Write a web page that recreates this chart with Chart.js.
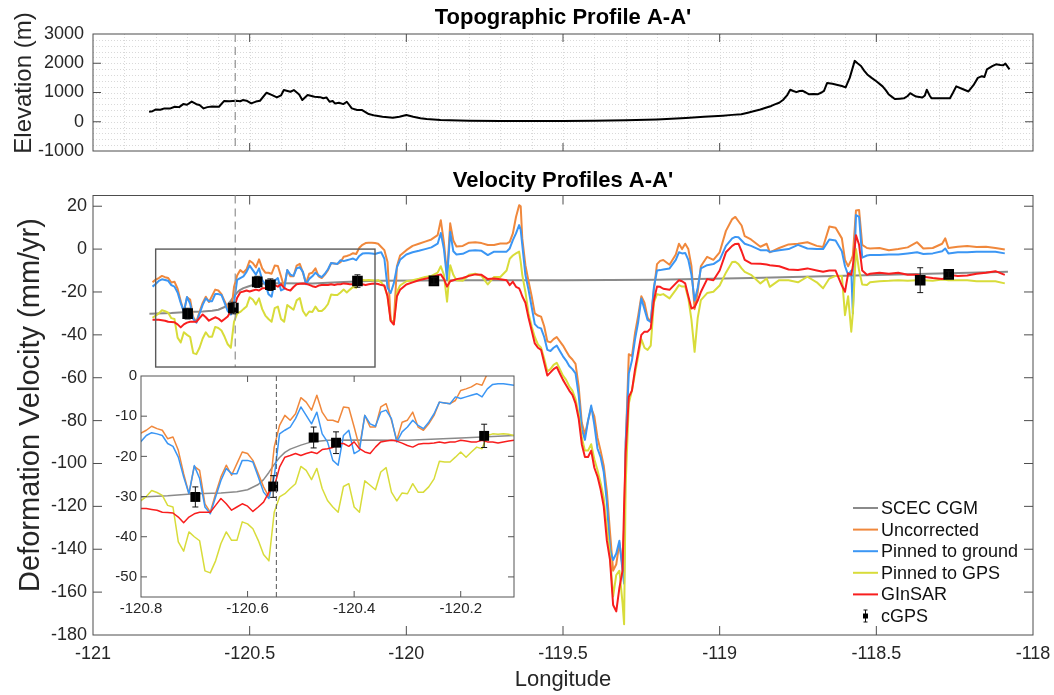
<!DOCTYPE html>
<html>
<head>
<meta charset="utf-8">
<title>Topographic and Velocity Profiles A-A'</title>
<script src="https://cdn.jsdelivr.net/npm/chart.js@4.4.1/dist/chart.umd.min.js"></script>
<style>
  html, body { margin: 0; padding: 0; background: #fff; }
  #fig { position: relative; width: 1054px; height: 695px; overflow: hidden; background: #fff; }
  #fig canvas { position: absolute; }
</style>
</head>
<body>
<div id="fig">
  <canvas id="topo" width="1054" height="160" style="left:0;top:0"></canvas>
  <canvas id="vel" width="1054" height="535" style="left:0;top:160px"></canvas>
  <canvas id="detail" width="440" height="270" style="left:100px;top:360px"></canvas>
</div>
<script>
// ---------------- profile data ----------------
// InSAR velocity profiles sampled along A-A' (longitude, mm/yr)
const profileLon = [
  -120.81,-120.80,-120.79,-120.78,-120.77,-120.76,-120.75,-120.74,-120.73,-120.72,
  -120.71,-120.70,-120.69,-120.68,-120.67,-120.66,-120.65,-120.64,-120.63,-120.62,
  -120.61,-120.60,-120.59,-120.58,-120.57,-120.56,-120.55,-120.54,-120.53,-120.52,
  -120.51,-120.50,-120.49,-120.48,-120.47,-120.46,-120.45,-120.44,-120.43,-120.42,
  -120.41,-120.40,-120.39,-120.38,-120.37,-120.36,-120.35,-120.34,-120.33,-120.32,
  -120.31,-120.30,-120.29,-120.28,-120.27,-120.26,-120.25,-120.24,-120.23,-120.22,
  -120.21,-120.20,-120.19,-120.18,-120.17,-120.16,-120.15,-120.14,-120.13,-120.12,
  -120.11,-120.10,-120.09,-120.08,-120.07,-120.06,-120.05,-120.04,-120.03,-120.02,
  -120.00,-119.98,-119.96,-119.94,-119.92,-119.90,-119.89,-119.88,-119.87,-119.86,
  -119.85,-119.84,-119.82,-119.80,-119.78,-119.76,-119.74,-119.72,-119.70,-119.68,
  -119.67,-119.66,-119.65,-119.64,-119.635,-119.63,-119.62,-119.61,-119.60,-119.59,
  -119.58,-119.57,-119.56,-119.55,-119.54,-119.53,-119.52,-119.51,-119.50,-119.49,
  -119.48,-119.47,-119.46,-119.45,-119.44,-119.43,-119.42,-119.41,-119.40,-119.39,
  -119.38,-119.37,-119.36,-119.35,-119.34,-119.33,-119.32,-119.31,-119.305,-119.30,
  -119.29,-119.28,-119.27,-119.26,-119.25,-119.24,-119.23,-119.22,-119.21,-119.20,
  -119.19,-119.18,-119.16,-119.14,-119.13,-119.12,-119.11,-119.10,-119.09,-119.08,
  -119.07,-119.06,-119.04,-119.02,-119.00,-118.98,-118.96,-118.95,-118.94,-118.93,
  -118.92,-118.90,-118.87,-118.85,-118.84,-118.81,-118.78,-118.75,-118.72,-118.69,
  -118.67,-118.65,-118.63,-118.61,-118.60,-118.59,-118.58,-118.575,-118.565,-118.555,
  -118.545,-118.53,-118.52,-118.49,-118.46,-118.43,-118.40,-118.37,-118.35,-118.32,
  -118.29,-118.28,-118.27,-118.24,-118.21,-118.18,-118.15,-118.12,-118.09
];
const uncorrected = [
  -15.5,-14.2,-13.5,-12.5,-13.1,-13.5,-15.6,-15.2,-18.5,-24.3,
  -29.3,-22.5,-23.5,-31.8,-33.9,-29.3,-25.1,-22.2,-24.7,-21.8,
  -18.9,-19.3,-21.0,-24.3,-27.6,-30.1,-17.7,-12.3,-9.8,-11.0,
  -9.4,-5.4,-6.5,-8.5,-4.8,-9.0,-11.0,-11.0,-11.5,-7.7,
  -7.9,-12.7,-17.7,-9.8,-12.7,-12.7,-7.7,-6.9,-11.0,-16.0,
  -11.5,-11.0,-9.0,-12.7,-13.5,-11.9,-9.8,-6.5,-6.7,-6.9,
  -6.1,-3.6,-3.2,-2.7,-1.9,-2.3,0.6,2.0,2.8,3.0,
  3.0,2.8,2.5,1.0,-0.5,-6.0,-33.0,-34.5,-8.0,-3.0,
  -0.5,1.5,2.5,3.5,4.5,6.5,13.5,3.0,-12.0,12.0,
  4.0,1.2,1.5,3.0,3.2,2.8,1.9,1.9,2.6,2.6,
  3.4,7.3,15.0,20.5,20.0,5.0,-7.5,-15.0,-22.0,-30.0,
  -31.0,-31.5,-36.0,-43.0,-43.5,-42.0,-41.0,-43.0,-45.0,-47.5,
  -50.0,-51.5,-53.5,-64.0,-81.0,-86.5,-80.0,-74.0,-78.0,-88.0,
  -94.0,-101.0,-113.0,-132.0,-150.0,-147.0,-137.0,-148.0,-130.0,-92.0,
  -49.0,-50.0,-39.0,-31.0,-22.0,-25.0,-32.0,-34.0,-19.0,-7.0,
  -5.5,-5.1,-7.3,-2.5,2.5,0.0,2.5,0.0,-8.0,-28.0,
  -20.0,-8.0,-3.6,-5.0,-1.5,8.5,14.0,15.0,13.0,11.0,
  6.0,4.5,1.1,2.5,-1.5,0.5,2.2,2.5,3.2,1.5,
  1.0,10.5,10.0,5.0,-5.0,-8.0,-5.0,-3.0,18.0,18.2,
  2.0,0.5,0.3,0.5,-0.5,0.0,0.8,3.2,0.3,0.5,
  2.5,5.0,0.5,1.1,1.5,1.0,1.1,0.5,-0.2
];
const pinnedGround = [
  -17.5,-16.3,-14.8,-14.1,-14.4,-14.8,-16.8,-17.5,-20.2,-25.1,
  -29.3,-22.3,-25.5,-32.6,-34.3,-30.1,-26.0,-23.0,-24.3,-24.3,
  -21.0,-21.0,-21.4,-25.1,-28.9,-30.5,-25.1,-14.4,-13.5,-12.7,
  -10.6,-7.7,-9.8,-11.9,-9.0,-14.4,-16.4,-21.0,-22.2,-14.8,
  -13.5,-19.3,-18.5,-9.8,-11.9,-12.5,-9.0,-8.5,-10.6,-16.4,
  -13.9,-12.7,-11.0,-12.3,-13.1,-11.5,-9.4,-6.5,-6.7,-6.9,
  -5.2,-5.6,-5.2,-4.8,-4.4,-5.2,-3.2,-2.1,-1.9,-1.9,
  -2.1,-2.3,-1.8,-1.5,-4.5,-18.0,-20.5,-16.0,-8.5,-5.0,
  -2.5,-1.5,-0.8,0.0,0.8,2.5,7.5,0.0,-14.0,8.0,
  -1.0,-2.5,-2.2,-0.8,-0.5,-0.8,-2.8,-1.2,-1.2,-1.2,
  0.3,4.2,7.3,11.2,9.0,2.0,-12.0,-19.0,-27.0,-35.0,
  -36.5,-37.0,-41.0,-47.0,-47.5,-46.0,-45.0,-47.5,-50.0,-52.0,
  -54.5,-56.0,-58.0,-68.0,-84.0,-89.0,-80.0,-73.0,-82.0,-93.0,
  -97.0,-104.0,-118.0,-140.0,-145.0,-142.0,-136.0,-150.0,-156.0,-90.0,
  -58.0,-52.0,-42.0,-34.0,-23.0,-28.0,-33.0,-34.0,-18.0,-10.0,
  -9.8,-9.5,-9.0,-5.0,-1.5,-2.0,-1.8,-5.0,-12.0,-24.0,
  -18.0,-9.0,-7.5,-7.0,-5.0,1.5,5.0,5.7,5.5,4.0,
  2.5,1.5,-0.5,-0.5,-1.3,-0.5,0.0,2.0,0.3,0.0,
  0.0,4.5,4.0,-1.0,-8.0,-12.0,-10.0,-30.0,15.9,15.0,
  -4.0,-3.0,-2.8,-2.8,-2.5,-2.5,-2.0,-1.5,-2.3,-2.0,
  -1.0,0.3,-2.0,-1.5,-1.5,-1.2,-1.2,-1.2,-2.0
];
const pinnedGps = [
  -32.0,-31.0,-30.0,-28.5,-29.0,-29.7,-32.2,-32.6,-41.3,-43.6,
  -38.8,-40.0,-41.0,-48.5,-49.0,-46.0,-41.7,-38.8,-40.9,-40.9,
  -36.3,-36.8,-38.0,-40.9,-44.4,-46.0,-33.9,-30.1,-29.3,-28.0,
  -26.8,-22.5,-23.5,-25.8,-23.0,-28.0,-31.0,-32.6,-33.9,-27.5,
  -26.8,-32.6,-33.9,-26.1,-27.2,-28.3,-23.9,-22.8,-28.9,-31.1,
  -29.1,-29.3,-26.8,-28.9,-28.9,-27.6,-25.6,-21.2,-21.4,-21.4,
  -20.2,-18.9,-20.2,-18.9,-17.7,-18.1,-14.8,-14.4,-14.5,-14.4,
  -14.5,-14.8,-14.5,-15.5,-17.5,-22.0,-33.0,-35.0,-20.0,-17.0,
  -15.0,-14.5,-13.8,-13.0,-12.5,-11.0,-8.0,-12.0,-24.5,-7.5,
  -12.0,-14.5,-14.8,-12.0,-11.5,-12.5,-16.5,-13.0,-13.0,-10.0,
  -4.5,-3.0,-2.0,-1.2,-6.0,-12.0,-20.0,-30.0,-36.0,-41.0,
  -44.5,-46.0,-51.0,-57.0,-56.0,-54.0,-53.0,-56.0,-59.0,-61.0,
  -64.0,-66.0,-70.0,-77.0,-88.0,-94.0,-94.0,-91.0,-98.0,-103.0,
  -109.0,-116.0,-130.0,-143.0,-162.0,-152.0,-150.0,-165.0,-175.0,-110.0,
  -72.0,-66.0,-58.0,-50.0,-42.0,-46.0,-47.0,-45.0,-25.0,-21.0,
  -21.4,-21.0,-23.0,-19.0,-16.8,-17.5,-17.5,-23.0,-33.0,-47.9,
  -32.0,-23.8,-20.5,-19.9,-17.0,-11.0,-6.0,-5.9,-7.0,-9.0,
  -10.6,-12.0,-16.0,-13.7,-17.6,-14.5,-14.5,-15.5,-12.9,-15.5,
  -18.3,-13.7,-12.5,-12.5,-30.8,-22.0,-38.5,-30.0,0.0,-10.0,
  -16.5,-16.8,-15.5,-15.0,-14.8,-14.5,-14.8,-14.5,-14.5,-14.8,
  -14.2,-14.3,-14.5,-14.5,-14.5,-15.0,-15.0,-15.0,-16.0
];
const ginsar = [
  -33.0,-33.0,-33.0,-33.2,-33.4,-33.9,-34.0,-34.1,-35.1,-36.5,
  -35.1,-34.3,-33.9,-33.9,-33.9,-32.2,-30.5,-31.8,-33.4,-32.6,
  -31.8,-32.4,-33.7,-32.6,-31.4,-28.9,-27.6,-22.7,-20.2,-19.8,
  -19.3,-19.8,-19.3,-18.9,-19.3,-18.3,-18.1,-17.8,-16.8,-16.8,
  -17.5,-16.4,-18.1,-18.9,-19.3,-17.7,-16.4,-16.2,-16.0,-16.2,
  -16.7,-17.3,-17.7,-17.0,-16.8,-16.8,-16.7,-16.4,-16.7,-16.4,
  -16.4,-16.0,-16.2,-16.4,-16.4,-16.0,-16.4,-16.4,-16.7,-16.4,
  -16.2,-16.0,-16.3,-16.8,-17.0,-22.0,-33.5,-35.2,-22.0,-19.0,
  -16.5,-15.5,-14.5,-13.8,-13.2,-12.2,-11.8,-14.0,-17.5,-15.0,
  -14.5,-14.0,-13.5,-12.5,-11.8,-12.0,-14.0,-13.7,-14.1,-14.5,
  -16.8,-15.2,-17.6,-18.3,-20.0,-22.0,-25.0,-32.0,-38.0,-44.0,
  -46.0,-47.0,-53.0,-59.0,-57.5,-56.0,-55.0,-58.0,-61.0,-63.5,
  -66.0,-68.0,-72.0,-79.0,-91.0,-97.0,-97.0,-94.0,-102.0,-106.0,
  -112.0,-120.0,-136.0,-145.0,-166.0,-169.0,-158.0,-150.0,-120.0,-95.0,
  -69.0,-66.0,-56.0,-48.0,-40.0,-38.5,-38.5,-37.0,-24.0,-17.5,
  -17.6,-18.5,-19.0,-16.0,-14.5,-15.0,-16.0,-22.0,-27.7,-27.0,
  -24.0,-20.0,-14.0,-14.5,-10.0,-1.5,1.5,2.4,2.5,-1.0,
  -5.0,-6.7,-6.8,-7.2,-7.5,-8.0,-9.5,-9.8,-9.0,-10.0,
  -10.6,-10.0,-10.0,-17.0,-19.9,-11.3,-12.0,-8.0,6.5,2.0,
  -10.0,-12.0,-11.5,-11.0,-11.5,-11.0,-12.0,-12.0,-12.9,-13.5,
  -14.0,-13.5,-12.0,-12.5,-12.3,-11.5,-11.0,-10.3,-12.0
];

// SCEC Community Geodetic Model prediction along the profile
const cgmLon = [-120.82,-120.75,-120.70,-120.65,-120.62,-120.60,-120.58,-120.57,-120.56,-120.55,
  -120.54,-120.53,-120.52,-120.50,-120.48,-120.45,-120.40,-120.30,-120.20,-120.10,
  -119.80,-119.50,-119.20,-118.90,-118.60,-118.30,-118.08];
const cgmVel = [-30.2,-29.8,-29.3,-29.1,-28.8,-28.3,-27.0,-25.8,-24.0,-22.0,
  -20.3,-19.0,-18.2,-17.2,-16.4,-16.0,-15.9,-16.0,-15.4,-14.8,
  -14.5,-14.5,-14.3,-13.5,-12.4,-11.4,-10.6];

// continuous GPS stations projected onto the profile
const gpsLon = [-120.698, -120.552, -120.476, -120.434, -120.156, -119.912, -118.36, -118.269];
const gpsVel = [-30.1, -27.5, -15.3, -16.6, -14.9, -14.8, -14.5, -11.8];
const gpsErr = [2.5, 2.7, 2.6, 2.7, 2.9, 1.5, 5.8, 1.5];

// topography along A-A' (longitude, metres)
const topoLon = [
  -120.821,-120.81,-120.799,-120.785,-120.772,-120.755,-120.739,-120.725,-120.712,-120.70,
  -120.685,-120.67,-120.66,-120.647,-120.635,-120.62,-120.598,-120.582,-120.565,-120.543,
  -120.53,-120.522,-120.51,-120.495,-120.48,-120.467,-120.446,-120.43,-120.413,-120.40,
  -120.391,-120.37,-120.359,-120.342,-120.332,-120.315,-120.293,-120.275,-120.265,-120.255,
  -120.245,-120.235,-120.228,-120.215,-120.201,-120.19,-120.174,-120.157,-120.141,-120.12,
  -120.10,-120.076,-120.043,-120.022,-120.0,-119.978,-119.955,-119.935,-119.891,-119.8,
  -119.7,-119.6,-119.5,-119.4,-119.3,-119.2,-119.108,-119.05,-118.99,-118.96,
  -118.931,-118.91,-118.892,-118.87,-118.853,-118.835,-118.824,-118.81,-118.798,-118.785,
  -118.775,-118.765,-118.755,-118.745,-118.735,-118.725,-118.716,-118.70,-118.686,-118.675,
  -118.667,-118.657,-118.64,-118.627,-118.61,-118.598,-118.585,-118.569,-118.56,-118.549,
  -118.539,-118.529,-118.515,-118.50,-118.48,-118.47,-118.461,-118.45,-118.441,-118.425,
  -118.412,-118.40,-118.392,-118.383,-118.373,-118.353,-118.345,-118.339,-118.33,-118.324,
  -118.30,-118.265,-118.255,-118.245,-118.225,-118.206,-118.19,-118.176,-118.163,-118.155,
  -118.147,-118.13,-118.118,-118.104,-118.095,-118.088,-118.075
];
const topoElev = [
  342,360,422,410,456,450,513,500,604,580,
  690,600,570,456,500,520,513,707,700,718,
  700,741,720,627,690,718,992,919,832,900,
  1083,1026,1083,935,741,912,855,840,802,832,
  684,709,627,650,604,684,456,400,399,262,
  210,171,137,171,228,171,120,91,57,38,
  25,23,22,30,50,80,128,170,209,235,
  256,310,360,420,477,540,593,650,744,900,
  1093,1050,1012,1050,1058,1000,942,950,942,1000,
  1058,1326,1300,1267,1220,1174,1500,2081,2000,1907,
  1750,1616,1500,1384,1209,1080,942,850,779,790,
  802,880,977,920,860,826,900,1093,900,802,
  802,802,1000,1209,1120,1035,1250,1500,1558,1530,
  1791,1900,1965,1942,1930,1988,1791
];

// axis ticks
const lonTicks = [-121, -120.5, -120, -119.5, -119, -118.5, -118];
const elevTicks = [-1000, 0, 1000, 2000, 3000];
const velTicks = [-180, -160, -140, -120, -100, -80, -60, -40, -20, 0, 20];
const detailLonTicks = [-120.8, -120.6, -120.4, -120.2];
const detailVelTicks = [-50, -40, -30, -20, -10, 0];

// fault trace and the window enlarged in the detail panel
const faultLon = -120.546;
const detailWindow = { lonMin: -120.8, lonMax: -120.1, velMin: -55, velMax: 0 };

// ---------------- drawing ----------------
const FONT = "'Liberation Sans', Arial, Helvetica, sans-serif";
const INK = '#262626';
Chart.defaults.font.family = FONT;
Chart.defaults.color = INK;

const COLORS = {
  cgm: '#8a8a8a', raw: '#f0883c', ground: '#3b96f4', gps: '#d8dc3a', ginsar: '#f81e1e'
};

function pts(xs, ys) { return xs.map((x, i) => ({ x: x, y: ys[i] })); }

function profileSets(w, gpsRadius) {
  const base = { pointRadius: 0, fill: false, tension: 0, clip: 0, borderJoinStyle: 'round' };
  return [
    { label: 'SCEC CGM', data: pts(cgmLon, cgmVel), borderColor: COLORS.cgm, borderWidth: w, order: 5 },
    { label: 'Uncorrected', data: pts(profileLon, uncorrected), borderColor: COLORS.raw, borderWidth: w, order: 4 },
    { label: 'Pinned to ground', data: pts(profileLon, pinnedGround), borderColor: COLORS.ground, borderWidth: w, order: 3 },
    { label: 'Pinned to GPS', data: pts(profileLon, pinnedGps), borderColor: COLORS.gps, borderWidth: w, order: 2 },
    { label: 'GInSAR', data: pts(profileLon, ginsar), borderColor: COLORS.ginsar, borderWidth: w, order: 1 },
    { label: 'cGPS', data: pts(gpsLon, gpsVel), errorBars: gpsErr, showLine: false,
      pointStyle: 'rect', pointRadius: gpsRadius, pointBackgroundColor: '#000',
      pointBorderColor: '#000', pointBorderWidth: 0, borderColor: '#000', backgroundColor: '#000', order: 0 }
  ].map(d => Object.assign({}, base, d));
}

function fixedTicks(values) {
  return s => { s.ticks = values.map(v => ({ value: v })); };
}
function fixWidth(w) {
  return s => { s.width = w; s.paddingTop = 0; s.paddingBottom = 0; s.paddingLeft = 0; s.paddingRight = 0; };
}
function fixHeight(h) {
  return s => { s.height = h; s.paddingTop = 0; s.paddingBottom = 0; s.paddingLeft = 0; s.paddingRight = 0; };
}
const noGrid = { display: false, drawTicks: false, tickLength: 0 };

// box, inward tick marks and optional dotted minor grid
const framePlugin = {
  id: 'frame',
  beforeDatasetsDraw(chart, args, o) {
    const { ctx, chartArea: a, scales: { x, y } } = chart;
    if (o.background) {
      ctx.save(); ctx.fillStyle = o.background;
      ctx.fillRect(a.left, a.top, a.right - a.left, a.bottom - a.top); ctx.restore();
    }
    if (!o.gridStepX) return;
    ctx.save();
    ctx.strokeStyle = '#d9d9d9'; ctx.lineWidth = 1; ctx.setLineDash([1, 2]);
    ctx.beginPath();
    for (let v = x.min + o.gridStepX; v < x.max - 1e-9; v += o.gridStepX) {
      const px = Math.round(x.getPixelForValue(v)) + 0.5;
      ctx.moveTo(px, a.top); ctx.lineTo(px, a.bottom);
    }
    for (let v = y.min + o.gridStepY; v < y.max - 1e-9; v += o.gridStepY) {
      const py = Math.round(y.getPixelForValue(v)) + 0.5;
      ctx.moveTo(a.left, py); ctx.lineTo(a.right, py);
    }
    ctx.stroke(); ctx.restore();
  },
  afterDatasetsDraw(chart, args, o) {
    const { ctx, chartArea: a, scales: { x, y } } = chart;
    ctx.save();
    ctx.strokeStyle = o.color; ctx.lineWidth = o.width;
    ctx.beginPath();
    for (const v of o.xMarks) {
      const px = x.getPixelForValue(v);
      if (px <= a.left + 1 || px >= a.right - 1) continue;
      ctx.moveTo(px, a.bottom); ctx.lineTo(px, a.bottom - o.len);
      ctx.moveTo(px, a.top); ctx.lineTo(px, a.top + o.len);
    }
    for (const v of o.yMarks) {
      const py = y.getPixelForValue(v);
      if (py <= a.top + 1 || py >= a.bottom - 1) continue;
      ctx.moveTo(a.left, py); ctx.lineTo(a.left + o.len, py);
      ctx.moveTo(a.right, py); ctx.lineTo(a.right - o.len, py);
    }
    ctx.stroke();
    ctx.strokeRect(a.left, a.top, a.right - a.left, a.bottom - a.top);
    ctx.restore();
  }
};

// fault trace (dashed) and outline of the enlarged window
const guidePlugin = {
  id: 'guides',
  afterDatasetsDraw(chart, args, o) {
    const { ctx, chartArea: a, scales: { x, y } } = chart;
    ctx.save();
    const px = x.getPixelForValue(faultLon);
    const yEnd = o.faultDownTo === undefined ? a.bottom : y.getPixelForValue(o.faultDownTo);
    ctx.strokeStyle = o.dashColor; ctx.lineWidth = o.dashWidth; ctx.setLineDash(o.dash);
    ctx.beginPath(); ctx.moveTo(px, a.top); ctx.lineTo(px, yEnd); ctx.stroke();
    if (o.window) {
      const w = o.window;
      const l = x.getPixelForValue(w.lonMin), r = x.getPixelForValue(w.lonMax);
      const t = y.getPixelForValue(w.velMax), b = y.getPixelForValue(w.velMin);
      ctx.setLineDash([]); ctx.strokeStyle = '#5a5a5a'; ctx.lineWidth = 1.4;
      ctx.strokeRect(l, t, r - l, b - t);
    }
    ctx.restore();
  }
};

// vertical uncertainty bars for the GPS stations
const errorBarPlugin = {
  id: 'errorBars',
  afterDatasetsDraw(chart, args, o) {
    const { ctx, chartArea: a, scales: { x, y } } = chart;
    ctx.save();
    ctx.beginPath(); ctx.rect(a.left, a.top, a.right - a.left, a.bottom - a.top); ctx.clip();
    ctx.strokeStyle = '#111'; ctx.lineWidth = 1;
    chart.data.datasets.forEach(ds => {
      if (!ds.errorBars) return;
      ds.data.forEach((p, i) => {
        const px = x.getPixelForValue(p.x);
        const top = y.getPixelForValue(p.y + ds.errorBars[i]);
        const bot = y.getPixelForValue(p.y - ds.errorBars[i]);
        ctx.beginPath();
        ctx.moveTo(px, top); ctx.lineTo(px, bot);
        ctx.moveTo(px - o.cap, top); ctx.lineTo(px + o.cap, top);
        ctx.moveTo(px - o.cap, bot); ctx.lineTo(px + o.cap, bot);
        ctx.stroke();
      });
    });
    ctx.restore();
  }
};

// bold panel heading and rotated side label
const headingPlugin = {
  id: 'heading',
  afterDraw(chart, args, o) {
    const { ctx, chartArea: a } = chart;
    ctx.save();
    ctx.font = 'bold ' + o.size + 'px ' + FONT;
    ctx.fillStyle = '#000'; ctx.textAlign = 'center'; ctx.textBaseline = 'alphabetic';
    ctx.fillText(o.text, (a.left + a.right) / 2, o.baseline);
    if (o.side) {
      ctx.font = o.side.size + 'px ' + FONT;
      ctx.fillStyle = INK; ctx.textBaseline = 'middle';
      ctx.translate(o.side.x, o.side.y);
      ctx.rotate(-Math.PI / 2);
      ctx.fillText(o.side.text, 0, 0);
    }
    ctx.restore();
  }
};

// legend in the lower right corner of the velocity panel
const keyPlugin = {
  id: 'key',
  afterDraw(chart, args, o) {
    const { ctx, chartArea: a } = chart;
    const x0 = a.right - o.right, y0 = a.bottom - o.bottom;
    ctx.save();
    ctx.font = o.size + 'px ' + FONT; ctx.textBaseline = 'middle'; ctx.textAlign = 'left';
    chart.data.datasets.forEach((ds, i) => {
      const yy = y0 + i * o.row;
      if (ds.errorBars) {
        const cx = x0 + o.line / 2;
        ctx.strokeStyle = '#111'; ctx.lineWidth = 1;
        ctx.beginPath();
        ctx.moveTo(cx, yy - 6); ctx.lineTo(cx, yy + 6);
        ctx.moveTo(cx - 2, yy - 6); ctx.lineTo(cx + 2, yy - 6);
        ctx.moveTo(cx - 2, yy + 6); ctx.lineTo(cx + 2, yy + 6);
        ctx.stroke();
        ctx.fillStyle = '#000'; ctx.fillRect(cx - 2.5, yy - 2.5, 5, 5);
      } else {
        ctx.strokeStyle = ds.borderColor; ctx.lineWidth = 2;
        ctx.beginPath(); ctx.moveTo(x0, yy); ctx.lineTo(x0 + o.line, yy); ctx.stroke();
      }
      ctx.fillStyle = '#111';
      ctx.fillText(ds.label, x0 + o.line + 3, yy + 1);
    });
    ctx.restore();
  }
};

const common = {
  responsive: false, animation: false, devicePixelRatio: 1,
  events: [],
};

// ---- topographic profile ----
new Chart(document.getElementById('topo'), {
  type: 'line',
  data: { datasets: [{ data: pts(topoLon, topoElev), borderColor: '#000', borderWidth: 2,
    pointRadius: 0, tension: 0, fill: false, clip: 0, borderJoinStyle: 'round' }] },
  options: Object.assign({}, common, {
    layout: { padding: { left: 0, right: 21, top: 34, bottom: 0 } },
    scales: {
      x: { type: 'linear', min: -121, max: -118,
        afterBuildTicks: fixedTicks(lonTicks), afterFit: fixHeight(9),
        grid: noGrid, border: { display: false }, ticks: { display: false } },
      y: { type: 'linear', min: -1000, max: 3000,
        afterBuildTicks: fixedTicks(elevTicks), afterFit: fixWidth(93),
        grid: noGrid, border: { display: false },
        ticks: { font: { size: 18 }, color: INK, padding: 9, callback: v => String(v) } }
    },
    plugins: {
      legend: { display: false }, tooltip: { enabled: false },
      frame: { color: '#4d4d4d', width: 1, len: 8, xMarks: lonTicks, yMarks: elevTicks, gridStepX: 0.1, gridStepY: 200 },
      guides: { dashColor: '#9a9a9a', dashWidth: 1.3, dash: [8, 5] },
      heading: { text: "Topographic Profile A-A'", size: 22, baseline: 24,
        side: { text: 'Elevation (m)', size: 24, x: 24, y: 83 } }
    }
  }),
  plugins: [framePlugin, guidePlugin, headingPlugin]
});

// ---- velocity profiles ----
new Chart(document.getElementById('vel'), {
  type: 'line',
  data: { datasets: profileSets(2, 7.5) },
  options: Object.assign({}, common, {
    layout: { padding: { left: 0, right: 21, top: 35.5, bottom: 0 } },
    scales: {
      x: { type: 'linear', min: -121, max: -118,
        afterBuildTicks: fixedTicks(lonTicks), afterFit: fixHeight(60),
        grid: noGrid, border: { display: false },
        ticks: { font: { size: 18 }, color: INK, padding: 8, maxRotation: 0, autoSkip: false, callback: v => String(v) },
        title: { display: true, text: 'Longitude', font: { size: 22 }, color: INK, padding: { top: 0, bottom: 2 } } },
      y: { type: 'linear', min: -180, max: 25,
        afterBuildTicks: fixedTicks(velTicks), afterFit: fixWidth(93),
        grid: noGrid, border: { display: false },
        ticks: { font: { size: 18 }, color: INK, padding: 6, callback: v => String(v) } }
    },
    plugins: {
      legend: { display: false }, tooltip: { enabled: false },
      frame: { color: '#4d4d4d', width: 1, len: 9, xMarks: lonTicks, yMarks: velTicks },
      guides: { dashColor: '#9a9a9a', dashWidth: 1.3, dash: [8, 5], faultDownTo: detailWindow.velMin, window: detailWindow },
      errorBars: { cap: 3 },
      heading: { text: "Velocity Profiles A-A'", size: 22, baseline: 27,
        side: { text: 'Deformation Velocity (mm/yr)', size: 29, x: 31, y: 245 } },
      key: { right: 180, bottom: 127, row: 21.6, line: 25, size: 18 }
    }
  }),
  plugins: [framePlugin, guidePlugin, errorBarPlugin, headingPlugin, keyPlugin]
});

// ---- enlarged detail across the fault ----
new Chart(document.getElementById('detail'), {
  type: 'line',
  data: { datasets: profileSets(1.5, 7) },
  options: Object.assign({}, common, {
    layout: { padding: { left: 0, right: 26, top: 16, bottom: 0 } },
    scales: {
      x: { type: 'linear', min: detailWindow.lonMin, max: detailWindow.lonMax,
        afterBuildTicks: fixedTicks(detailLonTicks), afterFit: fixHeight(33),
        grid: noGrid, border: { display: false },
        ticks: { font: { size: 15 }, color: INK, padding: 3, maxRotation: 0, autoSkip: false, callback: v => String(v) } },
      y: { type: 'linear', min: detailWindow.velMin, max: detailWindow.velMax,
        afterBuildTicks: fixedTicks(detailVelTicks), afterFit: fixWidth(41),
        grid: noGrid, border: { display: false },
        ticks: { font: { size: 15 }, color: INK, padding: 4, callback: v => String(v) } }
    },
    plugins: {
      legend: { display: false }, tooltip: { enabled: false },
      frame: { color: '#555', width: 1, len: 6, xMarks: detailLonTicks, yMarks: detailVelTicks, background: '#fff' },
      guides: { dashColor: '#555', dashWidth: 1, dash: [5, 3] },
      errorBars: { cap: 3 }
    }
  }),
  plugins: [framePlugin, guidePlugin, errorBarPlugin]
});
</script>
</body>
</html>
